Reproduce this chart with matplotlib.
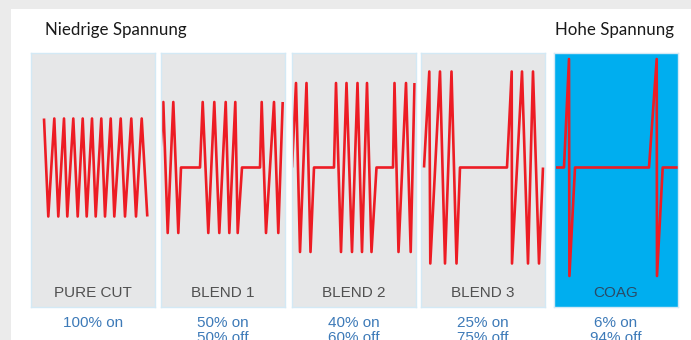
import matplotlib
matplotlib.use("Agg")
import matplotlib.pyplot as plt
from matplotlib.patches import Rectangle

# ---------------- data ----------------
modes = ["PURE CUT", "BLEND 1", "BLEND 2", "BLEND 3", "COAG"]
duty_on = ["100% on", "50% on", "40% on", "25% on", "6% on"]
duty_off = ["", "50% off", "60% off", "75% off", "94% off"]
amplitude = [49, 65.5, 84.5, 96, 108.5]   # relative peak voltage

# waveform vertices: time (within the panel window) and level (+1 peak, -1 trough, 0 off)
t_pure = [13, 17.3, 23.3, 27.3, 33, 36.3, 42.3, 46.7, 51.7, 55.7, 61, 64.7,
          70.3, 74, 79.7, 83.3, 89.7, 94, 100.3, 105, 110.7, 116.3]
l_pure = [1, -1] * 11
t_b1 = [-1.5, 2.3, 6.7, 12.3, 17.3, 20, 39, 41.7, 47.3, 53.3, 58.3, 64.7, 68.3,
        74.3, 76.7, 81, 99, 100.7, 105, 113, 117.3, 121.7]
l_b1 = [0, 1, -1, 1, -1, 0, 0, 1, -1, 1, -1, 1, -1, 1, -1, 0, 0, 1, -1, 1, -1, 1]
t_b2 = [0, 4, 8, 14.5, 18.5, 22, 42, 44, 49, 54.5, 60, 65.5, 70, 75, 79.5, 84.5,
        101, 102.5, 106.5, 114, 118.7, 122.5]
l_b2 = [0, 1, -1, 1, -1, 0, 0, 1, -1, 1, -1, 1, -1, 1, -1, 0, 0, 1, -1, 1, -1, 1]
t_b3 = [3, 8.3, 9.3, 19, 24, 30.5, 35.5, 39, 86, 90.7, 91, 101, 107, 112, 118, 122]
l_b3 = [0, 1, -1, 1, -1, 1, -1, 0, 0, 1, -1, 1, -1, 1, -1, 0]
t_coag = [2, 10, 15, 15.4, 21, 95, 102.7, 103, 108.7, 124]
l_coag = [0, 0, 1, -1, 0, 0, 1, -1, 0, 0]
times = [t_pure, t_b1, t_b2, t_b3, t_coag]
levels = [l_pure, l_b1, l_b2, l_b3, l_coag]

title_low = "Niedrige Spannung"
title_high = "Hohe Spannung"

# ---------------- style / layout ----------------
W, H = 691, 340
fig = plt.figure(figsize=(W / 100, H / 100), dpi=100)
fig.patch.set_facecolor("#ebebeb")

bg = fig.add_axes([0, 0, 1, 1], zorder=0)
bg.set_xlim(0, W)
bg.set_ylim(H, 0)
bg.axis("off")
bg.add_patch(Rectangle((11, 9), W - 11, H - 9, facecolor="white", edgecolor="none"))

panel_left = [31, 161, 292, 421, 554]
panel_w = 123.5
panel_top, panel_bot = 53, 307
mid_y = 167.5
face = ["#e6e7e8"] * 4 + ["#00aeef"]
label_col = ["#505050"] * 4 + ["#2a4a66"]

sans = ["Liberation Sans", "DejaVu Sans"]

for i in range(5):
    x0 = panel_left[i]
    ax = fig.add_axes([x0 / W, 1 - panel_bot / H, panel_w / W, (panel_bot - panel_top) / H],
                      zorder=1)
    ax.set_facecolor(face[i])
    ax.set_xlim(0, panel_w)
    ax.set_ylim(-(panel_bot - mid_y), mid_y - panel_top)
    ax.set_xticks([])
    ax.set_yticks([])
    for s in ax.spines.values():
        s.set_color("#d3e9f5")
        s.set_linewidth(1.0)
    ys = [amplitude[i] * v for v in levels[i]]
    ax.plot(times[i], ys, color="#ed1c24", lw=1.9, solid_joinstyle="round",
            solid_capstyle="butt", clip_on=True)

# overlay for texts
top = fig.add_axes([0, 0, 1, 1], zorder=5)
top.set_xlim(0, W)
top.set_ylim(H, 0)
top.axis("off")
top.patch.set_alpha(0)

for i in range(5):
    cx = panel_left[i] + panel_w / 2
    top.text(cx, 293, modes[i], ha="center", va="center", fontsize=11,
             color=label_col[i], family=sans)
    top.text(cx, 323, duty_on[i], ha="center", va="center", fontsize=11,
             color="#3d7ab8", family=sans)
    if duty_off[i]:
        top.text(cx, 338.5, duty_off[i], ha="center", va="center", fontsize=11,
                 color="#3d7ab8", family=sans)

top.text(45.5, 35.5, title_low, ha="left", va="baseline", fontsize=12.2,
         color="#1a1a1a", family=["Lato", "DejaVu Sans"])
top.text(555, 35.5, title_high, ha="left", va="baseline", fontsize=12.2,
         color="#1a1a1a", family=["Lato", "DejaVu Sans"])

fig.savefig("out.png", dpi=100, facecolor=fig.get_facecolor())
